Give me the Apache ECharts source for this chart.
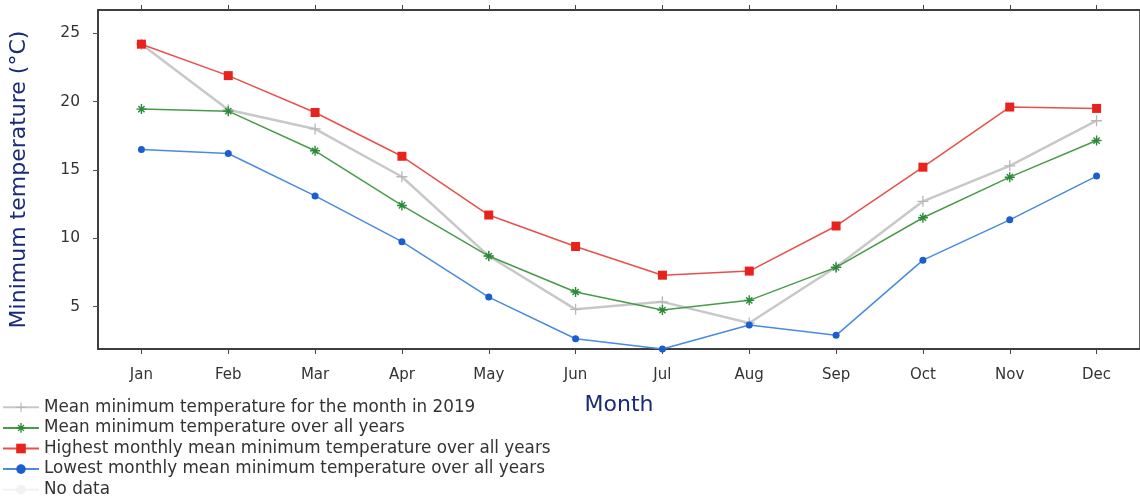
<!DOCTYPE html>
<html>
<head>
<meta charset="utf-8">
<script src="https://cdn.jsdelivr.net/npm/echarts@6/dist/echarts.min.js"></script>
<style>html,body{margin:0;padding:0;background:#fff;}#c{width:1140px;height:497px;}</style>
</head>
<body>
<div id="c"></div>
<script>
const months = ['Jan','Feb','Mar','Apr','May','Jun','Jul','Aug','Sep','Oct','Nov','Dec'];
const yTicks = [5, 10, 15, 20, 25];
const mean2019 = [24.2, 19.4, 18.0, 14.5, 8.7, 4.8, 5.35, 3.8, 7.9, 12.7, 15.3, 18.6];
const meanAll = [19.45, 19.3, 16.4, 12.4, 8.7, 6.07, 4.75, 5.46, 7.87, 11.5, 14.47, 17.15];
const highest = [24.2, 21.9, 19.2, 16.0, 11.7, 9.4, 7.3, 7.6, 10.9, 15.2, 19.6, 19.5];
const lowest = [16.5, 16.2, 13.1, 9.75, 5.7, 2.65, 1.9, 3.65, 2.9, 8.4, 11.35, 14.55];
const names = [
  'Mean minimum temperature for the month in 2019',
  'Mean minimum temperature over all years',
  'Highest monthly mean minimum temperature over all years',
  'Lowest monthly mean minimum temperature over all years',
  'No data'
];

const plusPath = 'path://M-0.6,-5L0.6,-5L0.6,-0.6L5,-0.6L5,0.6L0.6,0.6L0.6,5L-0.6,5L-0.6,0.6L-5,0.6L-5,-0.6L-0.6,-0.6Z';
const starPath = 'path://M-0.7,-5L0.7,-5L0.7,-0.7L5,-0.7L5,0.7L0.7,0.7L0.7,5L-0.7,5L-0.7,0.7L-5,0.7L-5,-0.7L-0.7,-0.7Z M-3.6,-2.6L-2.6,-3.6L3.6,2.6L2.6,3.6Z M2.6,-3.6L3.6,-2.6L-2.6,3.6L-3.6,2.6Z';

const chart = echarts.init(document.getElementById('c'));
const font = 'DejaVu Sans';
chart.setOption({
  animation: false,
  textStyle: { fontFamily: font },
  grid: { left: 96, right: -4, top: 10, bottom: 148, show: true, borderColor: '#333', borderWidth: 1.5, containLabel: false },
  legend: {
    orient: 'vertical', left: 2, top: 397, height: 130, itemGap: 0, itemWidth: 36, itemHeight: 12,
    padding: 0,
    textStyle: { fontSize: 16.8, color: '#333', fontFamily: font, lineHeight: 20.6, padding: [0, 0, 0, 0] },
    data: names
  },
  xAxis: [{
    type: 'category', data: months, boundaryGap: true,
    name: 'Month', nameLocation: 'middle', nameGap: 45,
    nameTextStyle: { fontSize: 22, color: '#1a2c78', fontFamily: font },
    axisLine: { show: true, lineStyle: { color: '#333', width: 1.5 } },
    axisTick: { show: true, alignWithLabel: true, length: 5, lineStyle: { color: '#444' } },
    axisLabel: { fontSize: 15, color: '#333', margin: 19 }
  }, {
    type: 'category', data: months, boundaryGap: true, position: 'top',
    axisLine: { show: true, lineStyle: { color: '#333', width: 1.5 } },
    axisTick: { show: true, alignWithLabel: true, length: 5, inside: false, lineStyle: { color: '#444' } },
    axisLabel: { show: false }
  }],
  yAxis: {
    type: 'value', min: 1.9, max: 26.7,
    name: 'Minimum temperature (°C)', nameLocation: 'middle', nameGap: 68,
    nameTextStyle: { fontSize: 22, color: '#1a2c78', fontFamily: font },
    axisLine: { show: true, lineStyle: { color: '#333', width: 1.5 } },
    axisTick: { show: true, length: 5, customValues: yTicks, lineStyle: { color: '#555' } },
    axisLabel: { fontSize: 15.5, color: '#333', margin: 18, customValues: yTicks },
    splitLine: { show: false }
  },
  series: [
    { name: names[0], type: 'line', data: mean2019, color: '#c4c4c4', lineStyle: { width: 2.5, color: '#c8c8c8' },
      symbol: plusPath, symbolSize: 11, itemStyle: { color: '#b8b8b8' }, z: 2 },
    { name: names[1], type: 'line', data: meanAll, color: '#3a9a3a', lineStyle: { width: 1.5, color: '#4a9a4a' },
      symbol: starPath, symbolSize: 10, itemStyle: { color: '#2a8a3a' }, z: 3 },
    { name: names[2], type: 'line', data: highest, color: '#e8322e', lineStyle: { width: 1.5, color: '#e8504a' },
      symbol: 'rect', symbolSize: 9, itemStyle: { color: '#e8221c' }, z: 4 },
    { name: names[3], type: 'line', data: lowest, color: '#1a5fd0', lineStyle: { width: 1.5, color: '#4a8ae0' },
      symbol: 'circle', symbolSize: 7, itemStyle: { color: '#1a5fd0' }, z: 5 },
    { name: names[4], type: 'line', data: [], color: '#f2f2f2', lineStyle: { color: '#f2f2f2' }, symbol: 'none' }
  ]
});
</script>
</body>
</html>
